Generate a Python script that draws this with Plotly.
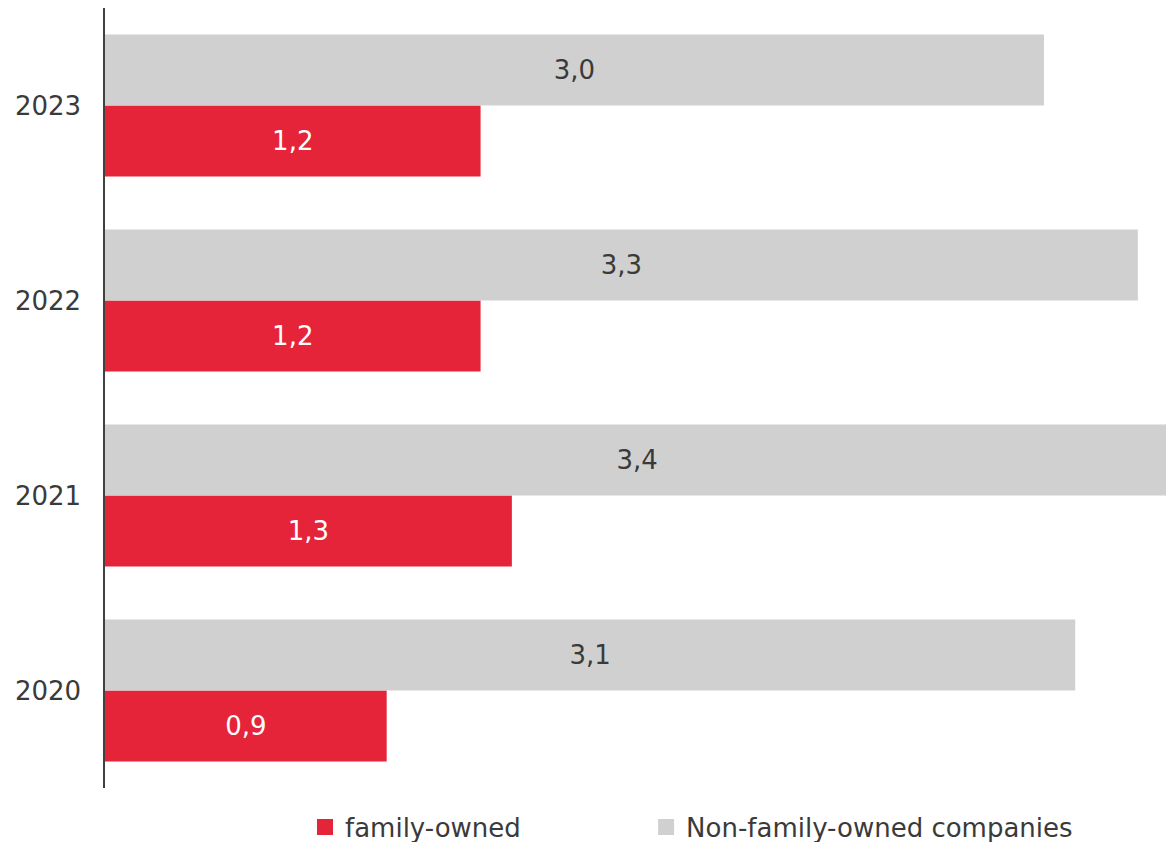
import plotly.graph_objects as go

years = ["2020", "2021", "2022", "2023"]
family_owned = [0.9, 1.3, 1.2, 1.2]
non_family_owned = [3.1, 3.4, 3.3, 3.0]
series_names = ["family-owned", "Non-family-owned companies"]

RED = "#E52339"
GREY = "#D0D0D0"
TEXT = "#3a3a3a"
FONT = "DejaVu Sans"
SIZE = 26

fig = go.Figure()
fig.add_trace(go.Bar(
    y=years, x=family_owned, orientation="h", name=series_names[0],
    marker=dict(color=RED, line=dict(width=0)),
    texttemplate="%{x:.1f}", textposition="inside", insidetextanchor="middle",
    textfont=dict(color="white", size=SIZE, family=FONT),
    showlegend=False,
))
fig.add_trace(go.Bar(
    y=years, x=non_family_owned, orientation="h", name=series_names[1],
    marker=dict(color=GREY, line=dict(width=0)),
    texttemplate="%{x:.1f}", textposition="inside", insidetextanchor="middle",
    textfont=dict(color=TEXT, size=SIZE, family=FONT),
    showlegend=False,
))

# legend keys: square swatches, one legend box per series
for name, color, leg in [(series_names[0], RED, "legend"), (series_names[1], GREY, "legend2")]:
    fig.add_trace(go.Scatter(
        x=[None], y=[None], mode="markers", name=name, legend=leg,
        marker=dict(symbol="square", size=16, color=color, line=dict(width=0)),
        hoverinfo="skip",
    ))

legend_common = dict(
    orientation="h", yanchor="middle", y=-0.05, xanchor="left",
    font=dict(size=SIZE, color=TEXT, family=FONT),
    itemclick=False, itemdoubleclick=False, bgcolor="rgba(0,0,0,0)",
)

fig.update_layout(
    width=1166, height=842,
    margin=dict(l=105, r=0, t=8, b=54, autoexpand=False),
    barmode="group", bargap=0.272, bargroupgap=0,
    separators=",.",
    paper_bgcolor="white", plot_bgcolor="white",
    font=dict(family=FONT, size=SIZE, color=TEXT),
    uniformtext=dict(minsize=10, mode="show"),
    showlegend=True,
    legend=dict(x=0.1885, **legend_common),
    legend2=dict(x=0.51, **legend_common),
)
fig.update_xaxes(range=[0, 3.39], visible=False, showgrid=False, zeroline=False, fixedrange=True)
fig.update_yaxes(
    type="category", categoryorder="array", categoryarray=years,
    showline=True, linecolor="#404040", linewidth=1.5,
    showgrid=False, zeroline=False, ticks="", ticklabelstandoff=17,
    tickfont=dict(size=SIZE, color=TEXT, family=FONT), fixedrange=True,
)

fig.write_html("out.html")
